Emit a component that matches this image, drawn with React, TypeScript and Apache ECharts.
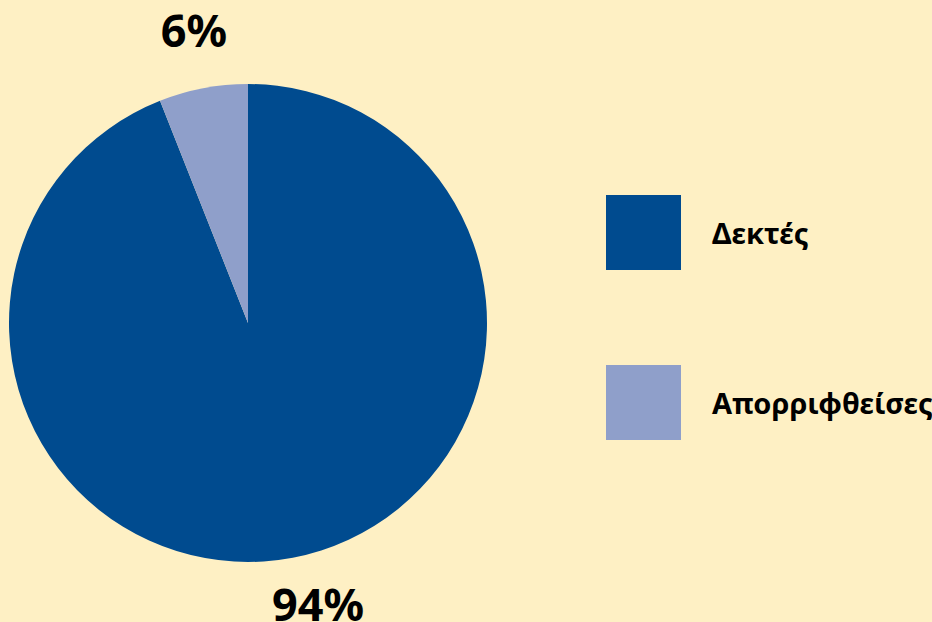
import React, { useEffect, useRef } from "react";
import * as echarts from "echarts";

const categories = ["Δεκτές", "Απορριφθείσες"];
const values = [94, 6];
const colors = ["#004B8F", "#8F9FCA"];
const labelShift = [
  { dx: 16, dy: -2 },
  { dx: 0, dy: -11 },
];

export default function App() {
  const ref = useRef<HTMLDivElement>(null);
  useEffect(() => {
    document.body.style.margin = "0";
    const chart = echarts.init(ref.current!, null, { renderer: "svg" });
    const font = "'Noto Sans', sans-serif";
    chart.setOption({
      animation: false,
      backgroundColor: "#FEF0C4",
      legend: {
        orient: "vertical",
        left: 601,
        top: 190,
        itemWidth: 75,
        itemHeight: 75,
        itemGap: 95,
        icon: "rect",
        data: categories,
        textStyle: {
          fontFamily: font,
          fontWeight: "bold",
          fontSize: 29,
          color: "#000",
          padding: [0, 0, 0, 26],
        },
      },
      series: [
        {
          type: "pie",
          center: [248, 323],
          radius: 239,
          startAngle: 90,
          clockwise: true,
          label: {
            show: true,
            position: "outside",
            formatter: "{c}%",
            fontFamily: font,
            fontWeight: "bold",
            fontSize: 45,
            color: "#000",
            distanceToLabelLine: 0,
          },
          labelLine: { show: false, length: 49, length2: 0 },
          labelLayout: (p: any) => ({
            align: "center",
            dx: labelShift[p.dataIndex].dx,
            dy: labelShift[p.dataIndex].dy,
          }),
          emphasis: { disabled: true },
          data: categories.map((name, i) => ({
            name,
            value: values[i],
            itemStyle: { color: colors[i] },
          })),
        },
      ],
    });
    return () => chart.dispose();
  }, []);
  return <div ref={ref} style={{ width: 932, height: 622 }} />;
}
